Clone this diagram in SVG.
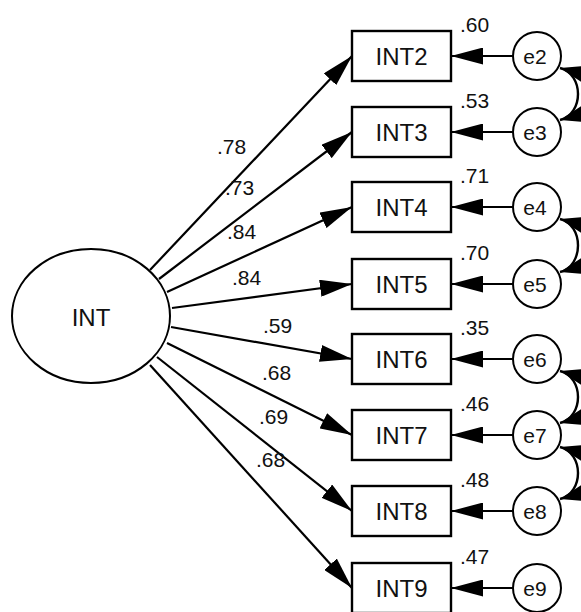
<svg xmlns="http://www.w3.org/2000/svg" width="581" height="612" viewBox="0 0 581 612">
  <style>
    .box { fill: #fff; stroke: #000; stroke-width: 2.4; }
    .err { fill: #fff; stroke: #000; stroke-width: 2; }
    .lat { fill: #fff; stroke: #000; stroke-width: 2; }
    .name { font-family: "Liberation Sans", Arial, sans-serif; font-size: 24px; fill: #111; text-anchor: middle; }
    .ename { font-family: "Liberation Sans", Arial, sans-serif; font-size: 21px; fill: #111; text-anchor: middle; }
    .est { font-family: "Liberation Sans", Arial, sans-serif; font-size: 21px; fill: #111; }
    .path { fill: none; stroke: #000; stroke-width: 2.2; marker-end: url(#head); }
    .cov { fill: none; stroke: #000; stroke-width: 2.4; marker-start: url(#head2); marker-end: url(#head2); }
  </style>
  <defs>
    <marker id="head" viewBox="0 0 32 17" refX="32" refY="8.5" markerWidth="32" markerHeight="17" markerUnits="userSpaceOnUse" orient="auto">
      <path d="M0,0 L32,8.5 L0,17 Z" fill="#000"/>
    </marker>
    <marker id="head2" viewBox="0 0 32 22" refX="32" refY="11" markerWidth="32" markerHeight="22" markerUnits="userSpaceOnUse" orient="auto-start-reverse">
      <path d="M0,0 L32,11 L0,22 Z" fill="#000"/>
    </marker>
  </defs>

  <rect width="581" height="612" fill="#fff"/>

  <!-- connectors -->
  <g id="connectors">
    <!-- factor loadings -->
    <line class="path" x1="150" y1="270" x2="352" y2="56"/>
    <line class="path" x1="159" y1="279" x2="352" y2="132"/>
    <line class="path" x1="167" y1="292" x2="352" y2="207"/>
    <line class="path" x1="172" y1="308" x2="352" y2="284"/>
    <line class="path" x1="171" y1="327" x2="352" y2="359"/>
    <line class="path" x1="167" y1="343" x2="352" y2="435"/>
    <line class="path" x1="157" y1="357" x2="352" y2="511"/>
    <line class="path" x1="150" y1="365" x2="352" y2="588"/>
    <!-- error terms -->
    <line class="path" x1="513" y1="56" x2="451" y2="56"/>
    <line class="path" x1="513" y1="132" x2="451" y2="132"/>
    <line class="path" x1="513" y1="207" x2="451" y2="207"/>
    <line class="path" x1="513" y1="284" x2="451" y2="284"/>
    <line class="path" x1="513" y1="359" x2="451" y2="359"/>
    <line class="path" x1="513" y1="435" x2="451" y2="435"/>
    <line class="path" x1="513" y1="511" x2="451" y2="511"/>
    <line class="path" x1="513" y1="588" x2="451" y2="588"/>
    <!-- error covariances -->
    <path class="cov" d="M560,68 C584,74 584,114 560,120"/>
    <path class="cov" d="M560,219 C584,225 584,266 560,272"/>
    <path class="cov" d="M560,371 C584,377 584,417 560,423"/>
    <path class="cov" d="M560,447 C584,453 584,493 560,499"/>

    <!-- loading estimates -->
    <text class="est" x="217" y="154">.78</text>
    <text class="est" x="225" y="195">.73</text>
    <text class="est" x="227" y="239">.84</text>
    <text class="est" x="232" y="285">.84</text>
    <text class="est" x="263" y="333">.59</text>
    <text class="est" x="262" y="380">.68</text>
    <text class="est" x="259" y="424">.69</text>
    <text class="est" x="256" y="467">.68</text>
  </g>

  <!-- latent factor -->
  <g id="INT">
    <ellipse class="lat" cx="91" cy="316" rx="79" ry="67"/>
    <text class="name" x="91" y="326">INT</text>
  </g>

  <!-- observed indicators -->
  <g id="INT2"><rect class="box" x="352" y="31" width="99" height="50"/><text class="name" x="401.5" y="65">INT2</text><text class="est" x="460" y="32">.60</text></g>
  <g id="INT3"><rect class="box" x="352" y="107" width="99" height="50"/><text class="name" x="401.5" y="141">INT3</text><text class="est" x="460" y="108">.53</text></g>
  <g id="INT4"><rect class="box" x="352" y="182" width="99" height="50"/><text class="name" x="401.5" y="216">INT4</text><text class="est" x="460" y="183">.71</text></g>
  <g id="INT5"><rect class="box" x="352" y="259" width="99" height="50"/><text class="name" x="401.5" y="293">INT5</text><text class="est" x="460" y="260">.70</text></g>
  <g id="INT6"><rect class="box" x="352" y="334" width="99" height="50"/><text class="name" x="401.5" y="368">INT6</text><text class="est" x="460" y="335">.35</text></g>
  <g id="INT7"><rect class="box" x="352" y="410" width="99" height="50"/><text class="name" x="401.5" y="444">INT7</text><text class="est" x="460" y="411">.46</text></g>
  <g id="INT8"><rect class="box" x="352" y="486" width="99" height="50"/><text class="name" x="401.5" y="520">INT8</text><text class="est" x="460" y="487">.48</text></g>
  <g id="INT9"><rect class="box" x="352" y="563" width="99" height="50"/><text class="name" x="401.5" y="597">INT9</text><text class="est" x="460" y="564">.47</text></g>

  <!-- error terms -->
  <g id="e2"><circle class="err" cx="537" cy="56" r="24"/><text class="ename" x="535" y="64">e2</text></g>
  <g id="e3"><circle class="err" cx="537" cy="132" r="24"/><text class="ename" x="535" y="140">e3</text></g>
  <g id="e4"><circle class="err" cx="537" cy="207" r="24"/><text class="ename" x="535" y="215">e4</text></g>
  <g id="e5"><circle class="err" cx="537" cy="284" r="24"/><text class="ename" x="535" y="292">e5</text></g>
  <g id="e6"><circle class="err" cx="537" cy="359" r="24"/><text class="ename" x="535" y="367">e6</text></g>
  <g id="e7"><circle class="err" cx="537" cy="435" r="24"/><text class="ename" x="535" y="443">e7</text></g>
  <g id="e8"><circle class="err" cx="537" cy="511" r="24"/><text class="ename" x="535" y="519">e8</text></g>
  <g id="e9"><circle class="err" cx="537" cy="588" r="24"/><text class="ename" x="535" y="596">e9</text></g>
</svg>
